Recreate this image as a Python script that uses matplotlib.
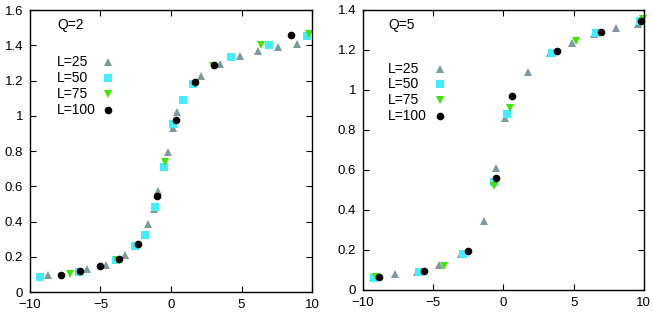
import matplotlib
matplotlib.use('Agg')
import matplotlib.pyplot as plt
from matplotlib.ticker import FuncFormatter

plt.rcParams['font.family'] = ['Liberation Sans', 'DejaVu Sans']
plt.rcParams['font.size'] = 9

# Q=2 panel
q2_x25 = [-8.7, -5.97, -4.62, -3.27, -1.61, -1.2, -0.95, -0.24, 0.12, 0.43, 2.13, 3.5, 4.86, 6.16, 7.58, 8.93]
q2_y25 = [0.094, 0.13, 0.156, 0.211, 0.386, 0.47, 0.574, 0.797, 0.93, 1.023, 1.225, 1.295, 1.337, 1.368, 1.39, 1.41]
q2_x50 = [-9.31, -6.52, -3.91, -2.54, -1.85, -1.16, -0.52, 0.17, 0.85, 1.54, 4.26, 6.94, 9.66]
q2_y50 = [0.083, 0.115, 0.179, 0.26, 0.326, 0.484, 0.71, 0.956, 1.091, 1.181, 1.333, 1.404, 1.455]
q2_x75 = [-7.18, -3.84, -0.43, 3.0, 6.4, 9.76]
q2_y75 = [0.10, 0.18, 0.74, 1.285, 1.40, 1.463]
q2_x100 = [-7.82, -6.45, -5.07, -3.72, -2.37, -1.02, 0.36, 1.71, 3.08, 8.48]
q2_y100 = [0.098, 0.117, 0.145, 0.185, 0.275, 0.546, 0.975, 1.194, 1.29, 1.457]

# Q=5 panel
q5_x25 = [-9.3, -7.76, -6.17, -4.58, -3.01, -1.4, -0.5, 0.14, 1.73, 3.3, 4.86, 6.48, 8.04, 9.56]
q5_y25 = [0.067, 0.08, 0.092, 0.125, 0.178, 0.345, 0.61, 0.858, 1.092, 1.183, 1.237, 1.278, 1.308, 1.33]
q5_x50 = [-9.2, -6.05, -2.87, -0.64, 0.28, 3.46, 6.6, 9.73]
q5_y50 = [0.062, 0.09, 0.18, 0.538, 0.88, 1.187, 1.283, 1.347]
q5_x75 = [-9.08, -4.27, -0.64, 0.47, 5.17, 9.92]
q5_y75 = [0.063, 0.122, 0.52, 0.908, 1.245, 1.355]
q5_x100 = [-8.85, -5.69, -2.54, -0.55, 0.64, 3.8, 6.93, 9.82]
q5_y100 = [0.063, 0.095, 0.197, 0.562, 0.97, 1.197, 1.292, 1.343]

labels = ['L=25', 'L=50', 'L=75', 'L=100']
markers = ['^', 's', 'v', 'o']
colors = ['#7f9a9c', '#3feeff', '#3fe600', 'black']
sizes = [5.5, 5.5, 5.5, 5.5]


def draw(ax, data, ymax, title, title_y, text_x, mark_x, rows_y):
    for (x, y), m, c, s in zip(data, markers, colors, sizes):
        ax.plot(x, y, m, color=c, ms=s, mew=0, clip_on=False)
    ax.set_xlim(-10, 10)
    ax.set_ylim(0, ymax)
    ax.set_xticks([-10, -5, 0, 5, 10])
    yt = [i * 0.2 for i in range(int(round(ymax / 0.2)) + 1)]
    ax.set_yticks(yt)
    ax.yaxis.set_major_formatter(FuncFormatter(lambda v, p: '%g' % round(v, 2)))
    ax.tick_params(direction='in', top=True, right=True, length=4, width=0.8, labelsize=9.5)
    ax.tick_params(axis='x', pad=5)
    ax.tick_params(axis='y', pad=5)
    for s in ax.spines.values():
        s.set_linewidth(1.0)
    ax.text(text_x, title_y, title, transform=ax.transAxes, fontsize=10, va='center')
    # legend: label text then marker, left aligned
    for lab, m, c, s, ry in zip(labels, markers, colors, sizes, rows_y):
        ax.text(text_x, ry, lab, transform=ax.transAxes, fontsize=10, va='center')
        ax.plot([mark_x], [ry], m, color=c, ms=s, mew=0, transform=ax.transAxes)


fig = plt.figure(figsize=(6.53, 3.15), dpi=100)
ax1 = fig.add_axes([0.0459, 0.073, 0.432, 0.895])
ax2 = fig.add_axes([0.556, 0.0794, 0.430, 0.889])

draw(ax1, [(q2_x25, q2_y25), (q2_x50, q2_y50), (q2_x75, q2_y75), (q2_x100, q2_y100)],
     1.6, 'Q=2', 0.947, 0.096, 0.277, [0.816, 0.759, 0.702, 0.645])
draw(ax2, [(q5_x25, q5_y25), (q5_x50, q5_y50), (q5_x75, q5_y75), (q5_x100, q5_y100)],
     1.4, 'Q=5', 0.946, 0.089, 0.274, [0.789, 0.736, 0.679, 0.621])

fig.savefig('out.png', dpi=100)
